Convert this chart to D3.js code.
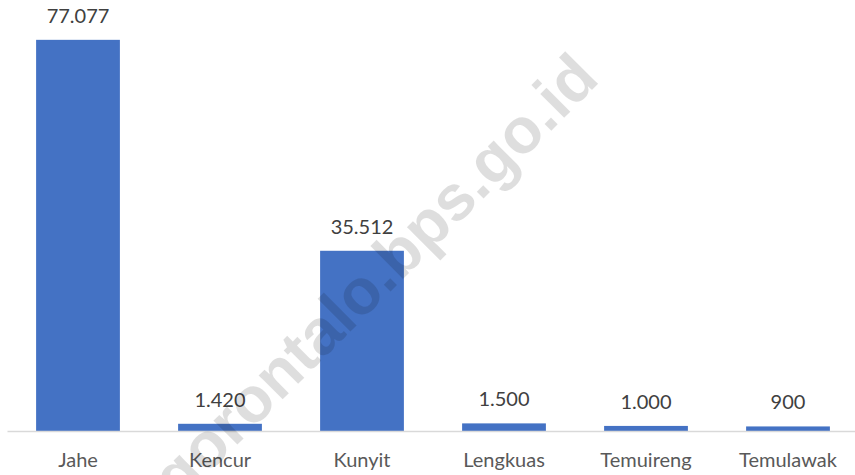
<!DOCTYPE html>
<html>
<head>
<meta charset="utf-8">
<script src="https://cdn.jsdelivr.net/npm/d3@7"></script>
<style>
  body { margin: 0; background: #fff; }
  svg { display: block; font-family: Lato, "Open Sans", sans-serif; }
</style>
</head>
<body>
<div id="chart"></div>
<script>
// produksi per komoditas (kg)
var categories = ["Jahe", "Kencur", "Kunyit", "Lengkuas", "Temuireng", "Temulawak"];
var values = [77077, 1420, 35512, 1500, 1000, 900];

var width = 855, height = 475;
var baseY = 431;

var svg = d3.select("#chart")
    .append("svg")
    .attr("width", width)
    .attr("height", height);

var x = d3.scaleBand()
    .domain(categories)
    .range([7, 859])
    .paddingInner(0.41)
    .paddingOuter(0.205);

var y = d3.scaleLinear()
    .domain([0, 80000])
    .range([baseY, 25]);

// angka pakai titik sebagai pemisah ribuan
var fmt = d3.formatLocale({ decimal: ",", thousands: ".", grouping: [3], currency: ["", ""] }).format(",d");

var data = categories.map(function (c, i) {
    return { name: c, value: values[i] };
});

svg.selectAll(".bar")
    .data(data)
    .enter()
    .append("rect")
    .attr("class", "bar")
    .attr("x", function (d) { return x(d.name); })
    .attr("width", x.bandwidth())
    .attr("y", function (d) { return y(d.value); })
    .attr("height", function (d) { return baseY - y(d.value); })
    .attr("fill", "#4472C4");

svg.selectAll(".val")
    .data(data)
    .enter()
    .append("text")
    .attr("class", "val")
    .attr("x", function (d) { return x(d.name) + x.bandwidth() / 2; })
    .attr("y", function (d) { return y(d.value) - 17; })
    .attr("text-anchor", "middle")
    .attr("font-size", 20)
    .attr("fill", "#404040")
    .text(function (d) { return fmt(d.value); });

var axis = svg.append("g")
    .attr("transform", "translate(0," + baseY + ")")
    .call(d3.axisBottom(x).tickSize(0).tickSizeOuter(0));

axis.select(".domain")
    .attr("stroke", "#d9d9d9")
    .attr("stroke-width", 1.5);

axis.selectAll(".tick text")
    .attr("dy", null)
    .attr("y", 36)
    .attr("font-size", 20)
    .attr("font-family", "Lato, 'Open Sans', sans-serif")
    .attr("fill", "#595959");

// watermark
svg.append("text")
    .attr("transform", "translate(390,292) rotate(-45)")
    .attr("text-anchor", "middle")
    .attr("font-family", "'Liberation Sans', Arial, sans-serif")
    .attr("font-weight", "bold")
    .attr("font-size", 64)
    .attr("fill", "#000")
    .attr("fill-opacity", 0.13)
    .text("gorontalo.bps.go.id");
</script>
</body>
</html>
